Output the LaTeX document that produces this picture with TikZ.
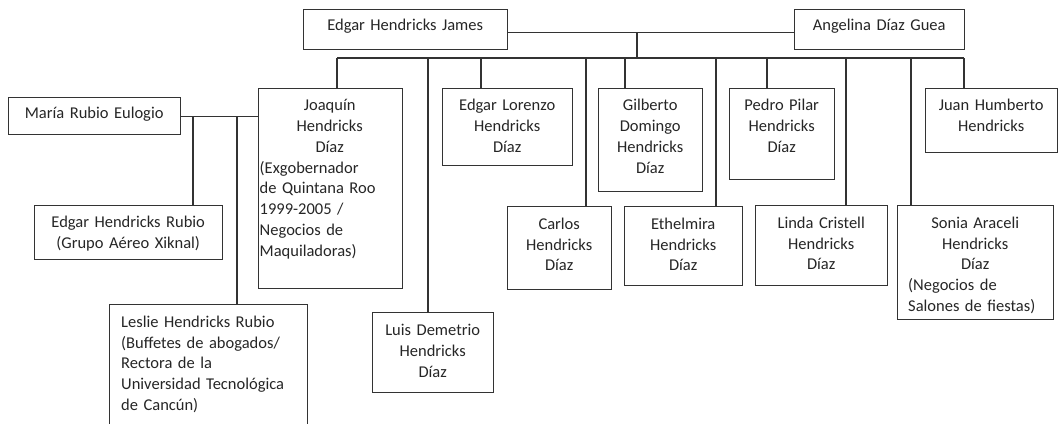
\documentclass[tikz,border=0pt]{standalone}
\usepackage{fontspec}
\setmainfont{Carlito}
\usepackage{tikz}
\begin{document}
\begin{tikzpicture}[x=1pt,y=-1pt]
\tikzstyle{every node}=[font=\fontsize{16.5}{20.8}\selectfont, text=black!85]
\tikzstyle{box}=[draw=black!80, line width=1.1pt, fill=white, inner sep=0pt, anchor=north west]
\tikzstyle{txt}=[inner sep=0pt, anchor=north west, align=center]
\tikzstyle{link}=[line width=1.1pt, color=black!80]
\useasboundingbox (0,0) rectangle (1060,423);
\clip (0,0) rectangle (1060,423);
%parents
\node[box, minimum width=204pt, minimum height=40pt] (ehj) at (303,9) {};
\node[txt, text width=198pt] (ehj-t) at ([xshift=3pt,yshift=-7pt]ehj.north west) {\strut Edgar Hendricks James};
\node[box, minimum width=170pt, minimum height=40pt] (adg) at (794,9) {};
\node[txt, text width=164pt] (adg-t) at ([xshift=3pt,yshift=-7pt]adg.north west) {\strut Angelina Díaz Guea};
\draw[link] ([yshift=-3pt]ehj.east) -- ([yshift=-3pt]adg.west);
\coordinate (par) at (637,32); \coordinate (bar) at (637,58);
\draw[link] (par) -- (bar);
%children, first row
\node[box, minimum width=144pt, minimum height=200pt] (joaq) at (258,88) {};
\node[txt, text width=140pt, align=left] (joaq-t) at ([xshift=1.5pt,yshift=-8pt]joaq.north west)
  {{\centering\strut Joaquín\\ Hendricks\\ Díaz\par}\raggedright\noindent(Exgobernador\\ de Quintana Roo\\ 1999-2005 /\\ Negocios de\\ Maquiladoras)};
\node[box, minimum width=130pt, minimum height=77pt] (elh) at (442,88) {};
\node[txt, text width=124pt] (elh-t) at ([xshift=3pt,yshift=-8pt]elh.north west) {\strut Edgar Lorenzo\\ Hendricks\\ Díaz};
\node[box, minimum width=104pt, minimum height=103pt] (gil) at (598,88) {};
\node[txt, text width=98pt] (gil-t) at ([xshift=3pt,yshift=-8pt]gil.north west) {\strut Gilberto\\ Domingo\\ Hendricks\\ Díaz};
\node[box, minimum width=105pt, minimum height=91pt] (ped) at (729,88) {};
\node[txt, text width=99pt] (ped-t) at ([xshift=3pt,yshift=-8pt]ped.north west) {\strut Pedro Pilar\\ Hendricks\\ Díaz};
\node[box, minimum width=132pt, minimum height=64pt] (juan) at (925,88) {};
\node[txt, text width=126pt] (juan-t) at ([xshift=3pt,yshift=-8pt]juan.north west) {\strut Juan Humberto\\ Hendricks};
%children, lower row
\node[box, minimum width=121pt, minimum height=80pt] (luis) at (372,312) {};
\node[txt, text width=115pt] (luis-t) at ([xshift=3pt,yshift=-9pt]luis.north west) {\strut Luis Demetrio\\ Hendricks\\ Díaz};
\node[box, minimum width=104pt, minimum height=83pt] (carlos) at (507,206) {};
\node[txt, text width=98pt] (carlos-t) at ([xshift=3pt,yshift=-8.5pt]carlos.north west) {\strut Carlos\\ Hendricks\\ Díaz};
\node[box, minimum width=118pt, minimum height=79pt] (eth) at (624,206) {};
\node[txt, text width=112pt] (eth-t) at ([xshift=3pt,yshift=-8.5pt]eth.north west) {\strut Ethelmira\\ Hendricks\\ Díaz};
\node[box, minimum width=132pt, minimum height=80pt] (linda) at (755,205) {};
\node[txt, text width=126pt] (linda-t) at ([xshift=3pt,yshift=-8.5pt]linda.north west) {\strut Linda Cristell\\ Hendricks\\ Díaz};
\node[box, minimum width=156pt, minimum height=114pt] (sonia) at (897,205) {};
\node[txt, text width=134pt, align=left] (sonia-t) at ([xshift=11pt,yshift=-8.5pt]sonia.north west)
  {{\centering\strut Sonia Araceli\\ Hendricks\\ Díaz\par}\raggedright\noindent(Negocios de\\ Salones de fiestas)};
% bar over the children
\coordinate (bl) at (337,58); \coordinate (br) at (964,58);
\draw[link] (bl) -- (br);
\foreach \x/\n in {337/joaq, 428/luis, 481/elh, 586/carlos, 625/gil, 716/eth, 767/ped, 846/linda, 911/sonia, 964/juan}
  {\coordinate (d\n) at (\x,58); \draw[link] (d\n) -- (d\n |- \n.north);}
%Joaquin's family
\node[box, minimum width=172pt, minimum height=37pt] (maria) at (8,97) {};
\node[txt, text width=166pt] (maria-t) at ([xshift=3pt,yshift=-6.5pt]maria.north west) {\strut María Rubio Eulogio};
\draw[link] (maria.east) -- (maria.east -| joaq.west);
\node[box, minimum width=188pt, minimum height=54pt] (ehr) at (34,205) {};
\node[txt, text width=182pt] (ehr-t) at ([xshift=3pt,yshift=-8pt]ehr.north west) {\strut Edgar Hendricks Rubio\\ (Grupo Aéreo Xiknal)};
\node[box, minimum width=198pt, minimum height=130pt] (leslie) at (109,304) {};
\node[txt, text width=184pt, align=left] (leslie-t) at ([xshift=12pt,yshift=-8.5pt]leslie.north west)
  {\raggedright\strut Leslie Hendricks Rubio\\ (Buffetes de abogados/\\ Rectora de la\\ Universidad Tecnológica\\ de Cancún)};
\coordinate (m1) at (193,116); \coordinate (m2) at (237,116);
\draw[link] (m1) -- (m1 |- ehr.north);
\draw[link] (m2) -- (m2 |- leslie.north);
\end{tikzpicture}
\end{document}
